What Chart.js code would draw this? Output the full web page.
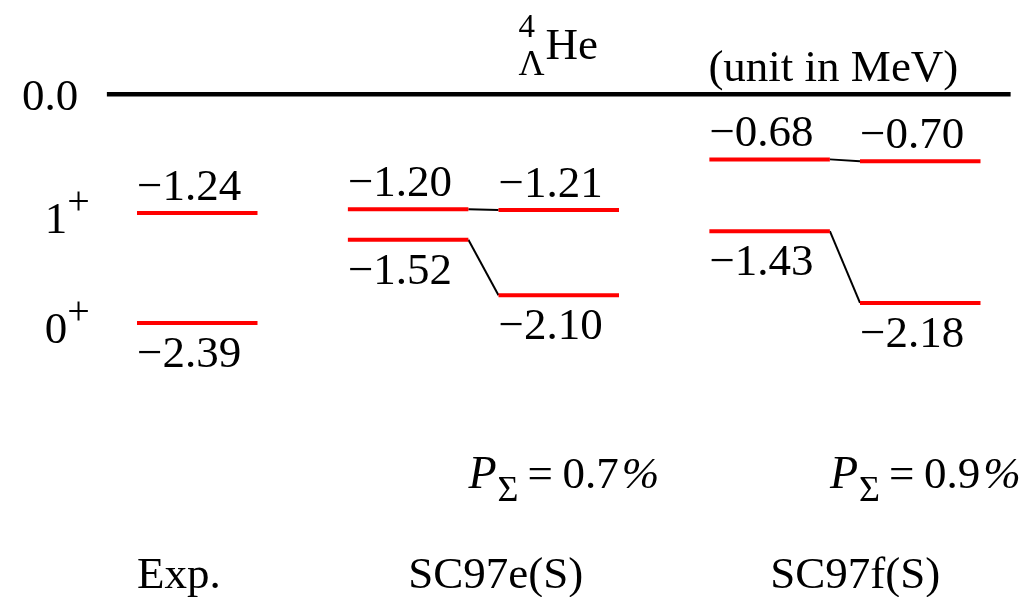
<!DOCTYPE html>
<html>
<head>
<meta charset="utf-8">
<title>4ΛHe levels</title>
<script src="https://cdn.jsdelivr.net/npm/chart.js@4/dist/chart.umd.min.js"></script>
<style>
  html, body { margin: 0; padding: 0; background: #fff; }
  canvas { display: block; }
</style>
</head>
<body>
<canvas id="levels" width="1025" height="597"></canvas>
<script>
// Level energies of the hypernucleus (MeV), index 0 = 1+ state, index 1 = 0+ state
const models = ['Exp.', 'SC97e(S)', 'SC97f(S)'];
const stateSpins = ['1', '0'];
const expEnergies = [-1.24, -2.39];
const sc97eLambdaOnly = [-1.20, -1.52];
const sc97eCoupled = [-1.21, -2.10];
const sc97fLambdaOnly = [-0.68, -1.43];
const sc97fCoupled = [-0.70, -2.18];
const sigmaProbabilities = ['0.7', '0.9'];
const thresholdEnergy = 0.0;

// Horizontal layout in units of one level width
const LEVEL_W = 1;
const columns = [
  { start: 0,    values: expEnergies },
  { start: 1.75, values: sc97eLambdaOnly },
  { start: 3,    values: sc97eCoupled },
  { start: 4.75, values: sc97fLambdaOnly },
  { start: 6,    values: sc97fCoupled }
];
// pairs of columns joined by thin connector lines
const links = [[1, 2], [3, 4]];

const RED = '#ff0000';
const SERIF = '"Liberation Serif", "Times New Roman", serif';
const MAIN = 45;

const datasets = [];
// threshold line
datasets.push({
  data: [{ x: -0.25, y: thresholdEnergy }, { x: 7.25, y: thresholdEnergy }],
  borderColor: '#000', borderWidth: 4.5
});
columns.forEach(col => {
  col.values.forEach(e => {
    datasets.push({
      data: [{ x: col.start, y: e }, { x: col.start + LEVEL_W, y: e }],
      borderColor: RED, borderWidth: 4
    });
  });
});
links.forEach(([a, b]) => {
  const ca = columns[a], cb = columns[b];
  ca.values.forEach((e, i) => {
    datasets.push({
      data: [{ x: ca.start + LEVEL_W, y: e }, { x: cb.start, y: cb.values[i] }],
      borderColor: '#000', borderWidth: 2
    });
  });
});
datasets.forEach(d => {
  d.showLine = true;
  d.pointRadius = 0;
  d.pointHoverRadius = 0;
  d.fill = false;
  d.clip = false;
  d.borderCapStyle = 'butt';
});

const fmt = v => (v < 0 ? '\u2212' : '') + Math.abs(v).toFixed(2);

const labelPlugin = {
  id: 'levelLabels',
  afterDatasetsDraw(chart) {
    const ctx = chart.ctx;
    const xs = chart.scales.x, ys = chart.scales.y;
    const X = v => xs.getPixelForValue(v);
    const Y = v => ys.getPixelForValue(v);
    const font = (size, style) => `${style || ''} ${size}px ${SERIF}`;
    ctx.save();
    ctx.fillStyle = '#000';
    ctx.textBaseline = 'alphabetic';
    ctx.textAlign = 'left';

    // level values: upper state above its line, lower state below
    ctx.font = font(MAIN);
    columns.forEach(col => {
      col.values.forEach((e, i) => {
        const y = i === 0 ? Y(e) - 13 : Y(e) + 44;
        ctx.fillText(fmt(e), X(col.start), y);
      });
    });

    // threshold value
    ctx.font = font(MAIN);
    ctx.fillText(thresholdEnergy.toFixed(1), X(-0.955), Y(thresholdEnergy) + 16);

    // spin-parity of each state next to experimental levels
    stateSpins.forEach((s, i) => {
      const base = Y(expEnergies[i]) + 20;
      const x0 = X(-0.765);
      ctx.font = font(MAIN);
      ctx.fillText(s, x0, base);
      const w = ctx.measureText(s).width;
      ctx.font = font(40);
      ctx.fillText('+', x0 + w, base - 19);
    });

    // nucleus symbol
    const tx = X(3.165);
    ctx.font = font(33);
    ctx.fillText('4', tx, 37);
    ctx.font = font(36);
    ctx.fillText('\u039B', tx, 75);
    ctx.font = font(MAIN);
    ctx.fillText('He', tx + 27, 59);

    // unit note
    ctx.font = font(MAIN);
    ctx.fillText('(unit in MeV)', X(4.75) - 1, 81);

    // Sigma admixture probability for each model
    [columns[1], columns[3]].forEach((col, i) => {
      const px = X(col.start + LEVEL_W);
      const base = 488;
      ctx.font = font(46, 'italic');
      ctx.fillText('P', px, base);
      ctx.font = font(36);
      ctx.fillText('\u03A3', px + 29, base + 13);
      ctx.font = font(MAIN);
      ctx.fillText('=', px + 59, base);
      ctx.fillText(sigmaProbabilities[i], px + 94, base);
      const w = ctx.measureText(sigmaProbabilities[i]).width;
      ctx.font = font(MAIN, 'italic');
      ctx.fillText('%', px + 94 + w + 3, base);
    });

    // model names
    ctx.font = font(MAIN);
    const nameX = [0, 2.25, 5.255];
    models.forEach((m, i) => ctx.fillText(m, X(nameX[i]), 588));

    ctx.restore();
  }
};

new Chart(document.getElementById('levels'), {
  type: 'scatter',
  data: { datasets },
  options: {
    responsive: false,
    devicePixelRatio: 1,
    animation: false,
    events: [],
    layout: { padding: 0 },
    plugins: { legend: { display: false }, tooltip: { enabled: false } },
    scales: {
      x: { type: 'linear', display: false, min: -137 / 120.5, max: (1025 - 137) / 120.5 },
      y: { type: 'linear', display: false, min: -(597 - 94.3) / 95.7, max: 94.3 / 95.7 }
    }
  },
  plugins: [labelPlugin]
});
</script>
</body>
</html>
